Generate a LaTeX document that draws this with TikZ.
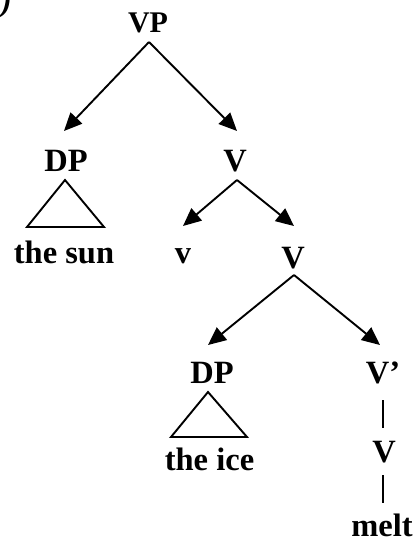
\documentclass[tikz,border=0pt]{standalone}
\usepackage{fontspec}
\setmainfont{Liberation Serif}
\usetikzlibrary{arrows.meta}
\tikzset{
  lbl/.style={font=\fontsize{32.5}{32.5}\selectfont\bfseries, inner sep=0pt, anchor=base},
  toplbl/.style={font=\fontsize{30}{30}\selectfont\bfseries, inner sep=0pt, anchor=base},
  branch/.style={line width=1.9pt, -{Triangle[length=18pt,width=16pt]}},
  tri/.style={line width=1.9pt, line join=miter},
  bar/.style={line width=2.8pt},
}
\begin{document}
\begin{tikzpicture}[x=1pt,y=-1pt]
\useasboundingbox (0,0) rectangle (417,537);
% partial label at top-left
\node[lbl, anchor=base east, font=\fontsize{32}{32}\selectfont\bfseries\itshape] (plabel) at (12,12) {)};
% nodes
\node[toplbl] (VP) at (148,33) {VP};
\node[lbl] (DP1) at (66,172) {DP};
\node[lbl] (V1) at (235,172) {V};
\node[lbl] (sun) at (64,263) {the sun};
\node[lbl] (v) at (183,263) {v};
\node[lbl] (V2) at (293,268) {V};
\node[lbl] (DP2) at (212,383) {DP};
\node[lbl] (Vp) at (383,383) {V’};
\node[lbl] (ice) at (209.5,470) {the ice};
\node[lbl] (V3) at (384,462) {V};
\node[lbl] (melt) at (382,536) {melt};
% branch points
\coordinate (VPb) at (149,42);
\coordinate (DP1t) at (64,131);
\coordinate (V1t) at (237,131);
\coordinate (V1b) at (237,180);
\coordinate (vt) at (183,226);
\coordinate (V2t) at (294,226);
\coordinate (V2b) at (294,275);
\coordinate (DP2t) at (208,345);
\coordinate (Vpt) at (380,345);
% arrows
\draw[branch] (VPb) -- (DP1t);
\draw[branch] (VPb) -- (V1t);
\draw[branch] (V1b) -- (vt);
\draw[branch] (V1b) -- (V2t);
\draw[branch] (V2b) -- (DP2t);
\draw[branch] (V2b) -- (Vpt);
% triangles
\coordinate (s1) at (65,180);
\coordinate (s2) at (27,227);
\coordinate (s3) at (104,227);
\draw[tri] (s1) -- (s2) -- (s3) -- cycle;
\coordinate (i1) at (208,392);
\coordinate (i2) at (171,437);
\coordinate (i3) at (247,437);
\draw[tri] (i1) -- (i2) -- (i3) -- cycle;
% vertical bars
\coordinate (b1t) at (383,400);
\coordinate (b1b) at (383,428);
\coordinate (b2t) at (383,475);
\coordinate (b2b) at (383,503);
\draw[bar] (b1t) -- (b1b);
\draw[bar] (b2t) -- (b2b);
\end{tikzpicture}
\end{document}
